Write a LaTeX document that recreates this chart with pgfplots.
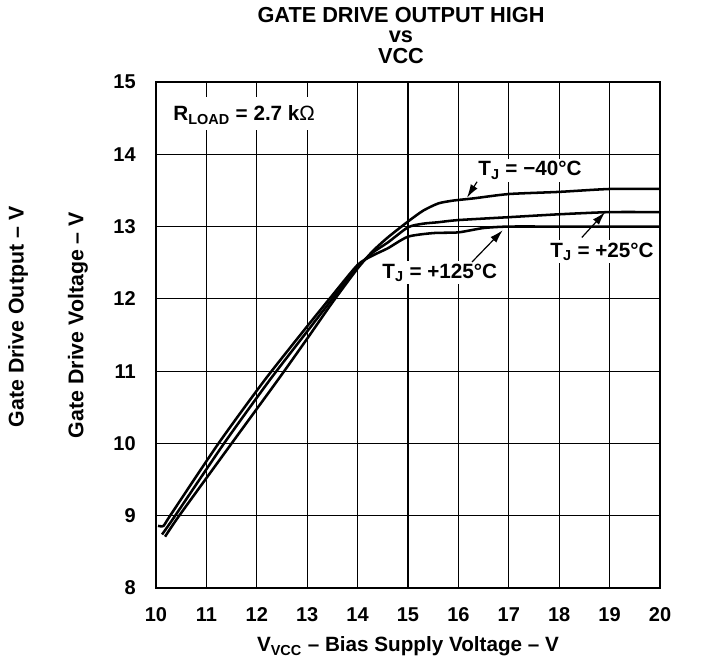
\documentclass[border=0pt]{standalone}
\usepackage{fontspec}
\setmainfont{Liberation Sans}
\usepackage{pgfplots}
\pgfplotsset{compat=1.18}
\usetikzlibrary{calc,arrows.meta}

\newcommand{\lbl}{\fontsize{15.5}{18}\selectfont\bfseries}
\newcommand{\ttl}{\fontsize{16.3}{19}\selectfont\bfseries}

\begin{document}
\begin{tikzpicture}
\begin{axis}[
    name=ax,
    scale only axis,
    width=378pt, height=379.5pt,
    xmin=10, xmax=20, ymin=8, ymax=15,
    xtick={10,11,...,20}, ytick={8,9,...,15},
    grid=major,
    grid style={black, line width=0.85pt},
    axis line style={line width=2.2pt},
    major tick length=0pt,
    /pgf/number format/assume math mode=true,
    tick label style={font=\fontsize{15}{18}\selectfont\bfseries},
    xticklabel style={anchor=base, yshift=-25.5pt, inner sep=0pt},
    yticklabel style={anchor=east, xshift=-15pt, inner sep=0pt},
    xlabel={V\textsubscript{VCC} – Bias Supply Voltage – V},
    xlabel style={font=\lbl, anchor=base, at={(axis description cs:0.5,0)}, yshift=-48pt},
]
% T_J = -40 C
\addplot[black, line width=1.9pt, smooth, tension=0.4] coordinates {
    (10.18,8.71) (10.46,9.00) (11.5,10.0) (12.42,10.88)
    (13.0,11.45) (13.5,11.95) (14.0,12.42) (14.3,12.66)
    (14.6,12.85) (15.0,13.07) (15.3,13.22) (15.6,13.32) (15.9,13.36)
    (16.3,13.39) (17.0,13.45) (18.0,13.48) (19.0,13.52) (20.0,13.52)
};
% T_J = +25 C
\addplot[black, line width=1.9pt, smooth, tension=0.4] coordinates {
    (10.12,8.74) (10.38,9.00) (11.35,10.0) (12.26,10.88)
    (13.0,11.55) (13.5,12.00) (14.0,12.44) (14.3,12.64)
    (14.6,12.78) (15.0,12.99) (15.3,13.04) (15.6,13.06) (16.0,13.09)
    (17.0,13.13) (18.0,13.17) (19.0,13.20) (20.0,13.20)
};
% T_J = +125 C
\addplot[black, line width=1.9pt, smooth, tension=0.4] coordinates {
    (10.04,8.86) (10.15,8.86) (10.28,9.00) (11.24,10.0) (12.16,10.88)
    (13.0,11.62) (13.5,12.05) (14.0,12.47) (14.3,12.60)
    (14.6,12.70) (15.0,12.86) (15.5,12.91) (16.0,12.92)
    (16.5,12.98) (17.0,13.00) (18.0,13.00) (19.0,13.00) (20.0,13.00)
};

\fill[white] (axis cs:10.14,14.33) rectangle (axis cs:13.65,14.79);
\node[anchor=west, inner sep=0pt, font=\lbl] at (axis cs:10.34,14.54)
    {R\textsubscript{LOAD} = 2.7 k{\mdseries Ω}};

\node[fill=white, inner sep=2pt, font=\lbl] at (axis cs:17.42,13.78) {T\textsubscript{J} = −40°C};
\node[fill=white, inner sep=2pt, font=\lbl] at (axis cs:15.63,12.36) {T\textsubscript{J} = +125°C};
\node[fill=white, inner sep=2pt, font=\lbl] at (axis cs:18.85,12.65) {T\textsubscript{J} = +25°C};

\draw[line width=0.9pt, -{Latex[length=10pt,width=6pt]}] (axis cs:16.37,13.62) -- (axis cs:16.17,13.40);
\draw[line width=0.9pt, -{Latex[length=10pt,width=6pt]}] (axis cs:16.27,12.51) -- (axis cs:16.88,12.95);
\draw[line width=0.9pt, -{Latex[length=10pt,width=6pt]}] (axis cs:18.45,12.85) -- (axis cs:18.91,13.20);
\end{axis}

\node[anchor=base, font=\ttl] at ($(ax.north)+(-5.25pt,44.6pt)$) {GATE DRIVE OUTPUT HIGH};
\node[anchor=base, font=\ttl] at ($(ax.north)+(-5.25pt,29.4pt)$) {vs};
\node[anchor=base, font=\ttl] at ($(ax.north)+(-5.25pt,14.25pt)$) {VCC};

\node[rotate=90, font=\fontsize{16}{19}\selectfont\bfseries] at ($(ax.west)+(-58.5pt,7.5pt)$) {Gate Drive Voltage – V};
\node[rotate=90, font=\fontsize{16}{19}\selectfont\bfseries] at ($(ax.west)+(-103.5pt,13.5pt)$) {Gate Drive Output – V};

\pgfresetboundingbox
\path[use as bounding box] ($(ax.south west)+(-117pt,-53.25pt)$) rectangle ($(ax.south west)+(415.5pt,441pt)$);
\end{tikzpicture}
\end{document}
